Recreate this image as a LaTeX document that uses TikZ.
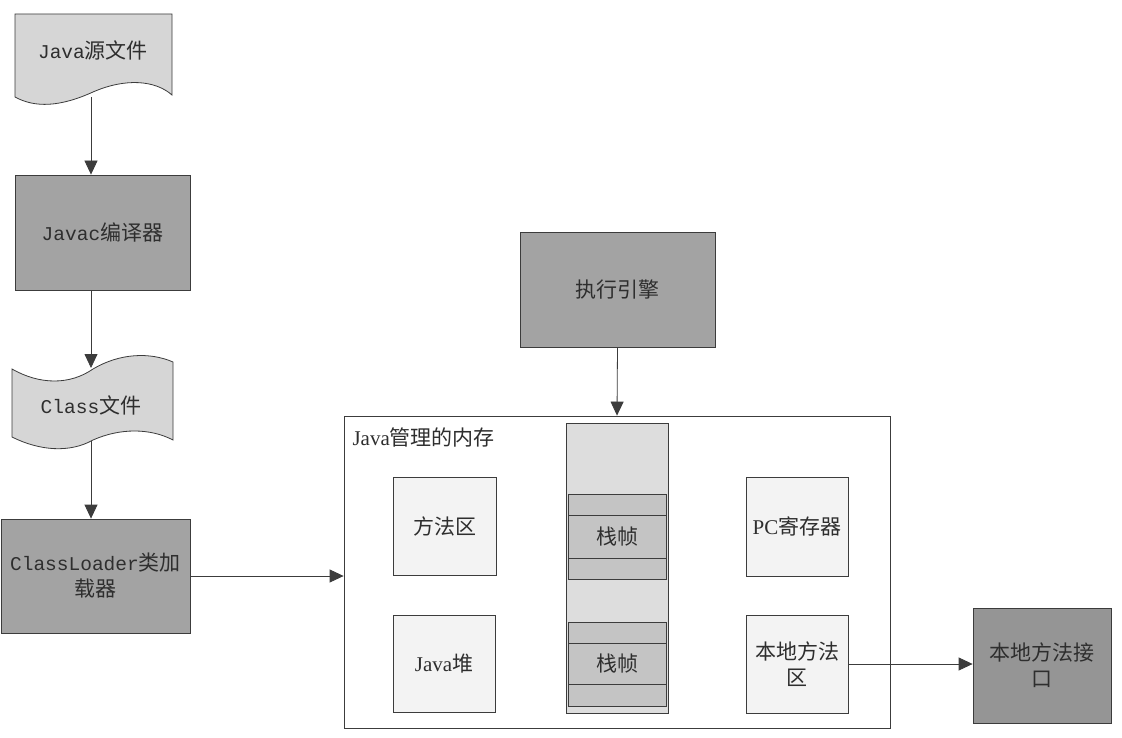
\documentclass[tikz,border=0pt]{standalone}
\usepackage{fontspec}
\setmainfont{Liberation Serif}
\newfontfamily\cjk{Noto Sans CJK SC}
\newfontfamily\mono{Liberation Mono}
\usetikzlibrary{arrows.meta}

\definecolor{inkline}{HTML}{3C3C3C}
\definecolor{inktext}{HTML}{2E2E2E}
\definecolor{darkfill}{HTML}{A3A3A3}
\definecolor{deepfill}{HTML}{959595}
\definecolor{filefill}{HTML}{D6D6D6}
\definecolor{stackfill}{HTML}{DDDDDD}
\definecolor{framefill}{HTML}{C4C4C4}
\definecolor{areafill}{HTML}{F3F3F3}

\newcommand{\zh}[1]{{\cjk #1}}
\newcommand{\mn}[1]{{\mono\fontsize{19.5}{26}\selectfont #1}}

\begin{document}
\begin{tikzpicture}[x=1pt, y=-1pt,
  every node/.style={text=inktext, font=\fontsize{21}{26}\selectfont},
  box/.style={draw=inkline, line width=0.8pt, inner sep=0pt, align=center},
  darkbox/.style={box, fill=darkfill},
  areabox/.style={box, fill=areafill},
  shapeline/.style={draw=inkline, line width=0.8pt},
  flow/.style={draw=inkline, line width=0.8pt, -{Triangle[width=13pt,length=14pt]}}
]
\useasboundingbox (0,0) rectangle (1122,738);
\fill[white] (0,0) rectangle (1122,738);

% ---- left column: compile and load chain ----
% source file (document shape)
\path[shapeline, fill=filefill] (15,14) -- (172,14) -- (172,95)
  .. controls (155,80) and (125,78) .. (93,92)
  .. controls (60,107) and (35,108) .. (15,97) -- cycle;
\node (src) at (93,50) {\mn{Java}\zh{源文件}};
\coordinate (srcbot) at (91,97);

\node[darkbox, minimum width=175pt, minimum height=115pt] (javac) at (102.5,232.5)
  {\mn{Javac}\zh{编译器}};

% class file (tape shape)
\path[shapeline, fill=filefill] (12,369)
  .. controls (40,385) and (70,385) .. (93,369)
  .. controls (120,353) and (150,352) .. (173,362)
  -- (173,440)
  .. controls (150,428) and (120,428) .. (93,440)
  .. controls (70,453) and (40,451) .. (12,437) -- cycle;
\node (cls) at (91,405) {\mn{Class}\zh{文件}};
\coordinate (clstop) at (91,368);
\coordinate (clsbot) at (91,441);

\node[darkbox, minimum width=189pt, minimum height=114pt] (loader) at (95.5,576)
  {\mn{ClassLoader}\zh{类加}\\\zh{载器}};

% ---- execution engine ----
\node[darkbox, minimum width=195pt, minimum height=115pt] (engine) at (617.5,289.5)
  {\zh{执行引擎}};

% ---- managed memory ----
\node[box, minimum width=546pt, minimum height=312pt] (mem) at (617,572) {};
\node[anchor=west] (memlabel) at (349,437) {Java\zh{管理的内存}};

\node[areabox, minimum width=103pt, minimum height=98pt] (method) at (444.5,526) {\zh{方法区}};
\node[areabox, minimum width=102pt, minimum height=97pt] (heap) at (444,663.5) {Java\zh{堆}};

% thread stack with two frames
\node[box, fill=stackfill, minimum width=102pt, minimum height=290pt] (stack) at (617,568) {};
\node[box, fill=framefill, minimum width=98pt, minimum height=85pt] (frameA) at (617,536.5) {};
\draw[shapeline] (568,515) -- (666,515) (568,558) -- (666,558);
\node (frameAtxt) at (617,537) {\zh{栈帧}};
\node[box, fill=framefill, minimum width=98pt, minimum height=84pt] (frameB) at (617,664) {};
\draw[shapeline] (568,643) -- (666,643) (568,684) -- (666,684);
\node (frameBtxt) at (617,664) {\zh{栈帧}};

\node[areabox, minimum width=102pt, minimum height=99pt] (pc) at (797,526.5) {PC\zh{寄存器}};
\node[areabox, minimum width=102pt, minimum height=98pt] (native) at (797,664)
  {\zh{本地方法}\\\zh{区}};

% ---- native interface ----
\node[box, fill=deepfill, minimum width=138pt, minimum height=115pt] (jni) at (1042,665.5)
  {\zh{本地方法接}\\\zh{口}};

% ---- connectors ----
\draw[flow] (srcbot) -- (srcbot |- javac.north);
\draw[flow] (javac.south -| clstop) -- (clstop);
\draw[flow] (clsbot) -- (clsbot |- loader.north);
\draw[flow] (loader.east) -- (loader.east -| mem.west);
\draw[flow] (engine.south) -- (mem.north);
\draw[flow] (native.east) -- (native.east -| jni.west);
\end{tikzpicture}
\end{document}
